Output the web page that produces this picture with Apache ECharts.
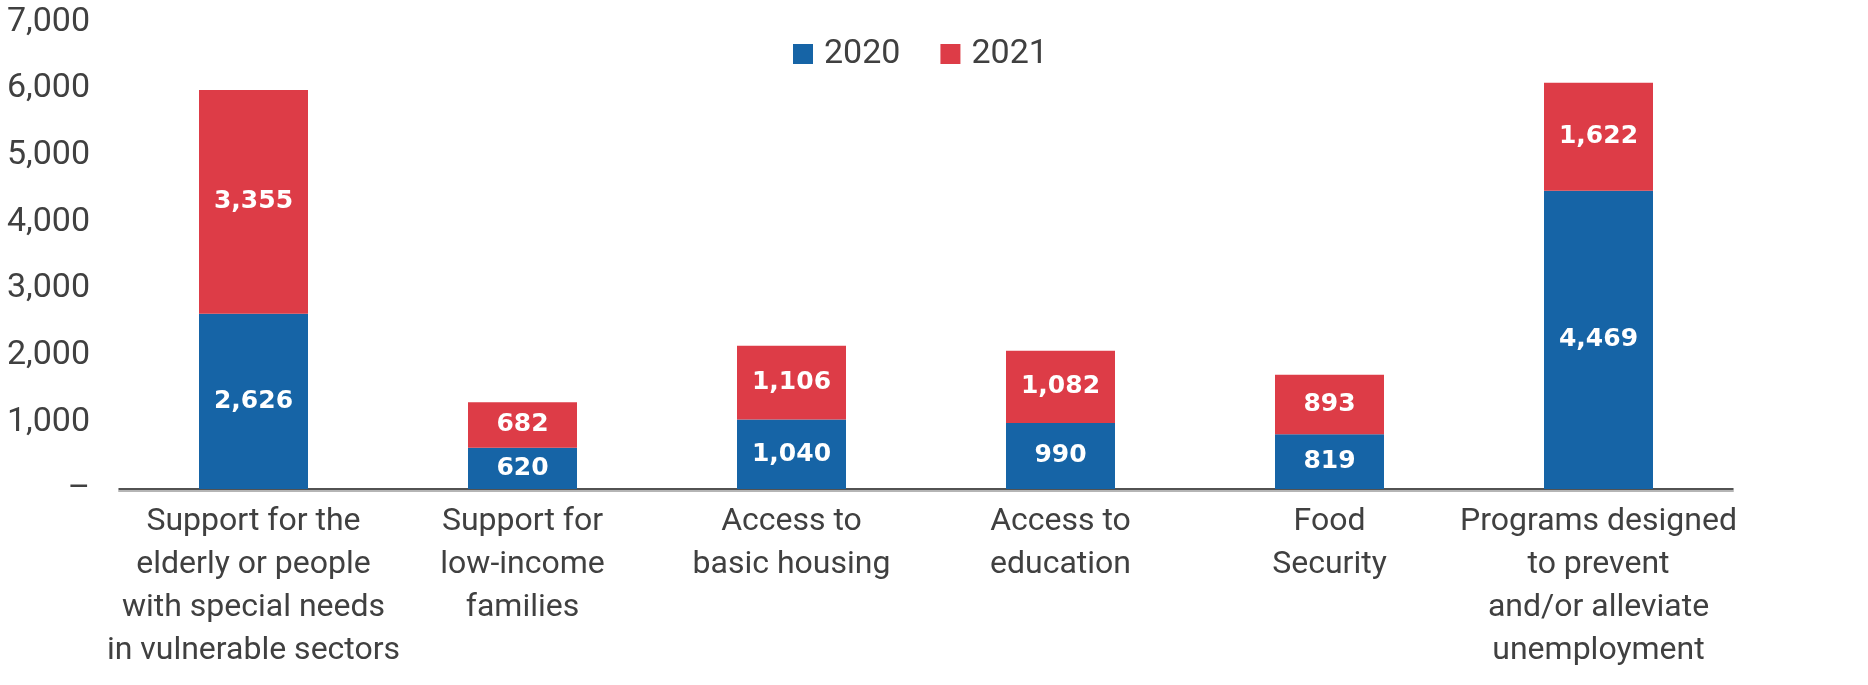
<!DOCTYPE html>
<html>
<head>
<meta charset="utf-8">
<script src="https://cdn.jsdelivr.net/npm/echarts@6/dist/echarts.min.js"></script>
<style>
html,body{margin:0;padding:0;background:#fff;}
#chart{width:1868px;height:685px;}
</style>
</head>
<body>
<div id="chart"></div>
<script>
const categories = [
  "Support for the\nelderly or people\nwith special needs\nin vulnerable sectors",
  "Support for\nlow-income\nfamilies",
  "Access to\nbasic housing",
  "Access to\neducation",
  "Food\nSecurity",
  "Programs designed\nto prevent\nand/or alleviate\nunemployment"
];
const values2020 = [2626, 620, 1040, 990, 819, 4469];
const values2021 = [3355, 682, 1106, 1082, 893, 1622];
const yTicks = [0, 1000, 2000, 3000, 4000, 5000, 6000, 7000];

const fmt = v => v.toLocaleString('en-US');
const chart = echarts.init(document.getElementById('chart'), null, {renderer: 'canvas'});
const labelStyle = {
  show: true, position: 'inside', color: '#fff',
  fontFamily: 'DejaVu Sans', fontWeight: 'bold', fontSize: 25,
  formatter: p => fmt(p.value)
};
chart.setOption({
  animation: false,
  textStyle: {fontFamily: 'Roboto'},
  legend: {
    top: 32, left: 788,
    itemWidth: 20, itemHeight: 20, itemGap: 40,
    icon: 'rect',
    textStyle: {fontSize: 34, color: '#404040', fontFamily: 'Roboto', padding: [0, 0, 0, 6]},
    data: ['2020', '2021']
  },
  grid: {left: 119, right: 135, top: 22, bottom: 196, containLabel: false},
  xAxis: [{
    type: 'category', data: categories,
    axisLine: {lineStyle: {color: '#1a1a1a', width: 1.5}},
    axisTick: {show: false},
    axisLabel: {
      interval: 0, margin: 11, fontSize: 32, lineHeight: 43,
      color: '#404040', fontFamily: 'Roboto', align: 'center'
    }
  }, {
    type: 'category', data: categories, position: 'bottom', offset: 2,
    axisLine: {lineStyle: {color: '#b5b5b5', width: 2}},
    axisTick: {show: false}, axisLabel: {show: false}
  }],
  yAxis: {
    type: 'value', min: yTicks[0], max: yTicks[yTicks.length - 1], interval: 1000,
    splitLine: {show: false}, axisLine: {show: false}, axisTick: {show: false},
    axisLabel: {
      margin: 29, fontSize: 34, color: '#404040', fontFamily: 'Roboto',
      padding: [0, 0, 8, 0],
      formatter: v => v === 0 ? '–' : fmt(v)
    }
  },
  series: [{
    name: '2020', type: 'bar', stack: 'total', data: values2020,
    barWidth: 109, itemStyle: {color: '#1664A6'}, label: labelStyle
  }, {
    name: '2021', type: 'bar', stack: 'total', data: values2021,
    barWidth: 109, itemStyle: {color: '#DD3C47'}, label: labelStyle
  }]
});
</script>
</body>
</html>
